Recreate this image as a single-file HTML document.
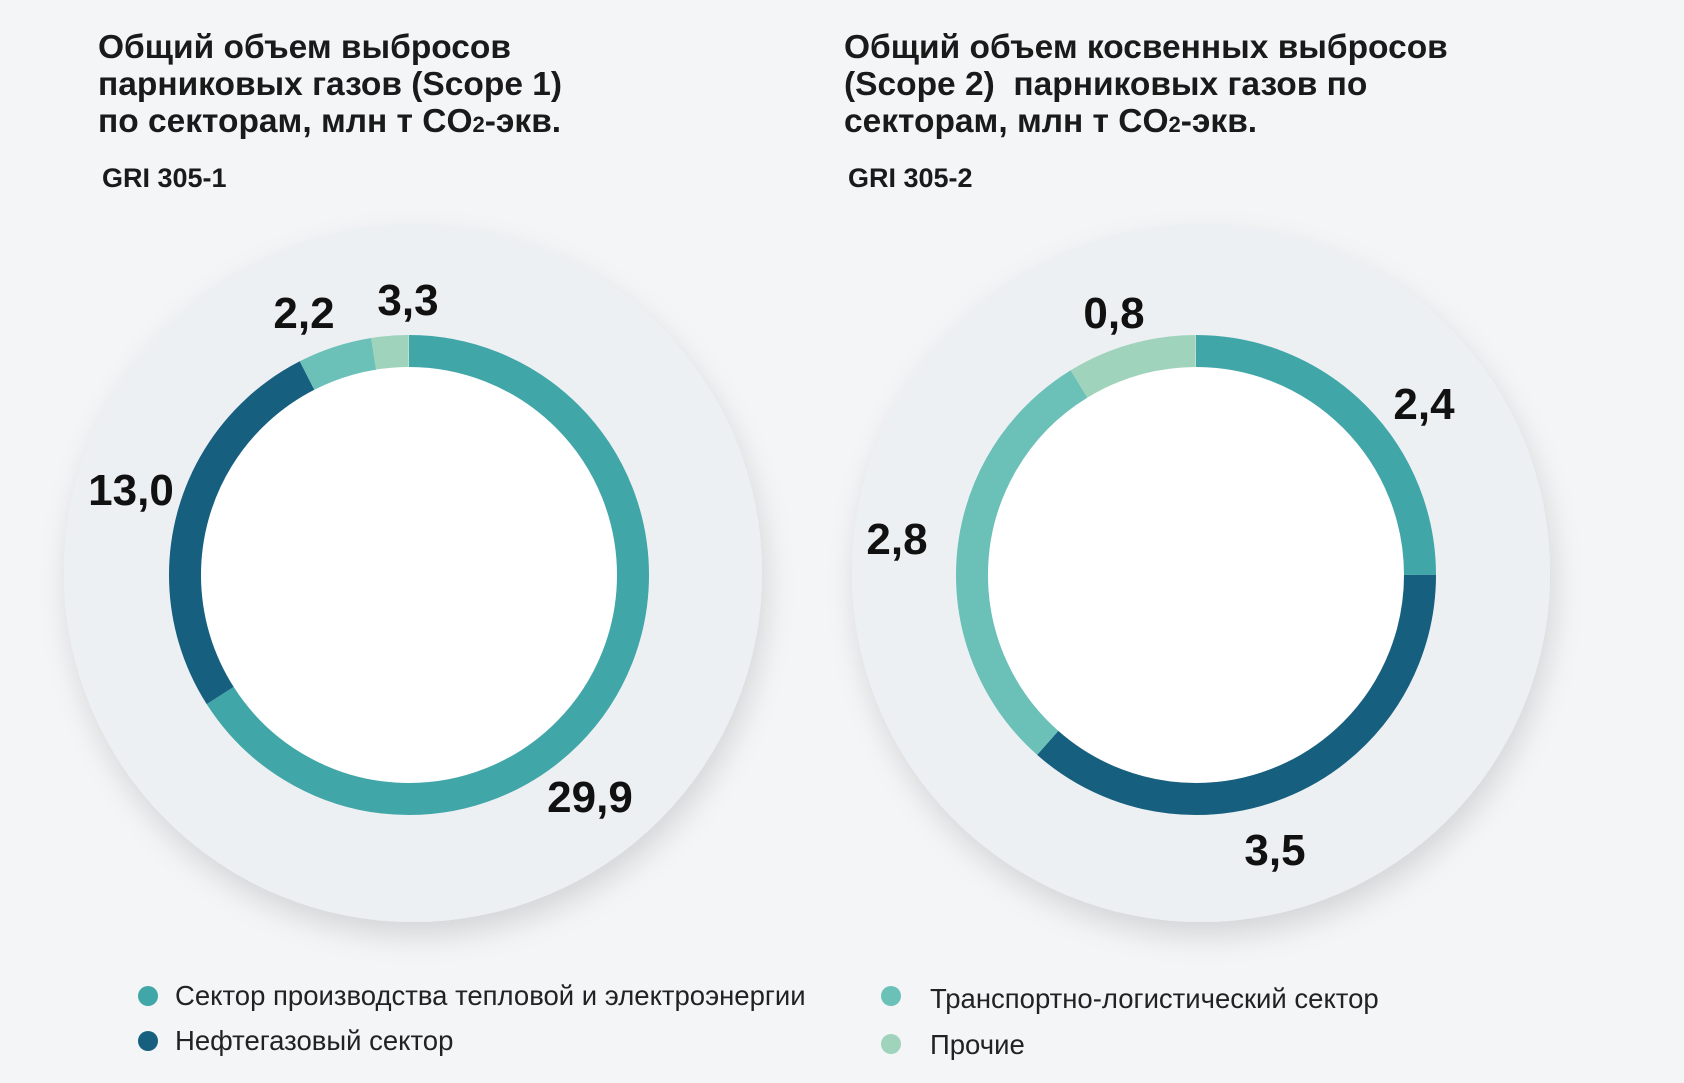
<!DOCTYPE html>
<html><head><meta charset="utf-8"><style>
html,body{margin:0;padding:0}
body{width:1684px;height:1083px;background:#f3f5f7;position:relative;overflow:hidden;font-family:"Liberation Sans","DejaVu Sans",sans-serif;color:#111}
.t{position:absolute;font-weight:bold;font-size:33.5px;line-height:37px;color:#1a1a1a}
.g{position:absolute;font-weight:bold;font-size:27px;color:#1a1a1a}
.lab{position:absolute;font-weight:bold;font-size:44px;color:#111;transform:translate(-50%,-50%);white-space:nowrap}
.leg{position:absolute;font-size:27.5px;color:#222;white-space:nowrap;transform:translateY(-50%)}
.dot{position:absolute;width:20px;height:20px;border-radius:50%;transform:translate(-50%,-50%)}
</style></head><body>
<svg width="1684" height="1083" style="position:absolute;left:0;top:0">
<defs>
<filter id="sh" x="-20%" y="-20%" width="140%" height="140%"><feDropShadow dx="4" dy="14" stdDeviation="14" flood-color="#000" flood-opacity="0.13"/></filter>
</defs>
<circle cx="413" cy="573" r="349" fill="#edf0f3" filter="url(#sh)"/>
<circle cx="1201" cy="573" r="349" fill="#edf0f3" filter="url(#sh)"/>
<g transform="translate(409,575) rotate(-90)" fill="none" stroke-width="32">
<circle r="224" fill="#fff" stroke="none"/>
<circle r="224" stroke="#40a6a8" pathLength="360" stroke-dasharray="237.5 400" stroke-dashoffset="0"/>
<circle r="224" stroke="#175f7e" pathLength="360" stroke-dasharray="95.5 400" stroke-dashoffset="-237.5"/>
<circle r="224" stroke="#6bc1b8" pathLength="360" stroke-dasharray="18 400" stroke-dashoffset="-333"/>
<circle r="224" stroke="#9fd3bc" pathLength="360" stroke-dasharray="9 400" stroke-dashoffset="-351"/>
</g>
<g transform="translate(1196,575) rotate(-90)" fill="none" stroke-width="32">
<circle r="224" fill="#fff" stroke="none"/>
<circle r="224" stroke="#40a6a8" pathLength="360" stroke-dasharray="90 400" stroke-dashoffset="0"/>
<circle r="224" stroke="#175f7e" pathLength="360" stroke-dasharray="131.5 400" stroke-dashoffset="-90"/>
<circle r="224" stroke="#6bc1b8" pathLength="360" stroke-dasharray="107.1 400" stroke-dashoffset="-221.5"/>
<circle r="224" stroke="#9fd3bc" pathLength="360" stroke-dasharray="31.4 400" stroke-dashoffset="-328.6"/>
</g>
</svg>
<div class="t" style="left:98px;top:29px">Общий объем выбросов<br>парниковых газов (Scope 1)<br>по секторам, млн т CO<span style="font-size:22px">2</span>-экв.</div>
<div class="g" style="left:102px;top:163px">GRI 305-1</div>
<div class="t" style="left:844px;top:29px">Общий объем косвенных выбросов<br>(Scope 2)&nbsp; парниковых газов по<br>секторам, млн т CO<span style="font-size:22px">2</span>-экв.</div>
<div class="g" style="left:848px;top:163px">GRI 305-2</div>
<div class="lab" style="left:408px;top:301px">3,3</div>
<div class="lab" style="left:304px;top:314px">2,2</div>
<div class="lab" style="left:131px;top:491px">13,0</div>
<div class="lab" style="left:590px;top:798px">29,9</div>
<div class="lab" style="left:1114px;top:314px">0,8</div>
<div class="lab" style="left:1424px;top:405px">2,4</div>
<div class="lab" style="left:897px;top:540px">2,8</div>
<div class="lab" style="left:1275px;top:851px">3,5</div>
<div class="dot" style="left:148px;top:996px;background:#40a6a8"></div>
<div class="leg" style="left:175px;top:996px">Сектор производства тепловой и электроэнергии</div>
<div class="dot" style="left:148px;top:1041px;background:#175f7e"></div>
<div class="leg" style="left:175px;top:1041px">Нефтегазовый сектор</div>
<div class="dot" style="left:891px;top:996px;background:#6bc1b8"></div>
<div class="leg" style="left:930px;top:999px">Транспортно-логистический сектор</div>
<div class="dot" style="left:891px;top:1044px;background:#9fd3bc"></div>
<div class="leg" style="left:930px;top:1045px">Прочие</div>
</body></html>
